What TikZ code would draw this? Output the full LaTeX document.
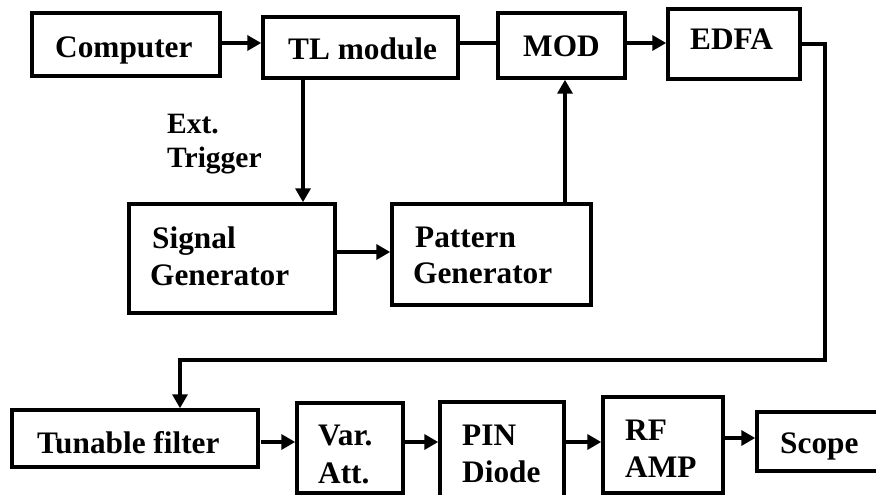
\documentclass[tikz,border=0pt]{standalone}
\usepackage{fontspec}
\setmainfont{Liberation Serif}
\usetikzlibrary{arrows.meta}
\begin{document}
\begin{tikzpicture}[x=1pt,y=-1pt,
  blk/.style={draw, line width=3.5pt, inner sep=0pt},
  lbl/.style={anchor=base west, inner sep=0pt, font=\fontsize{31.3}{37}\selectfont\bfseries},
  smalllbl/.style={lbl, font=\fontsize{29.5}{34}\selectfont\bfseries},
  wire/.style={line width=3.5pt},
  arr/.style={wire, -{Triangle[length=14pt,width=15pt]}}]
\useasboundingbox (0,0) rectangle (876,495);
% blocks: corner-to-corner boxes
\newcommand\blockat[5]{\node[blk, minimum width={#4-#2}, minimum height={#5-#3}] (#1) at ({(#2+#4)/2},{(#3+#5)/2}) {};}
\blockat{comp}{32}{13}{220}{76}
\blockat{tl}{263}{17}{458}{78}
\blockat{mod}{498}{13}{625}{78}
\blockat{edfa}{668}{9}{800}{79}
\blockat{sig}{129}{204}{335}{313}
\blockat{pat}{392}{204}{591}{305}
\blockat{tf}{12}{410}{258}{467}
\blockat{var}{297}{403}{403}{493}
\blockat{pin}{440}{402}{564}{510}
\blockat{rf}{603}{397}{723}{493}
\blockat{scope}{757}{412}{900}{471}
% labels
\node[lbl] (tcomp) at (55,58) {Computer};
\node[lbl] (ttl) at (288,60) {TL module};
\node[lbl] (tmod) at (523,57) {MOD};
\node[lbl] (tedfa) at (690,50) {EDFA};
\node[smalllbl] (text1) at (167,133) {Ext.};
\node[smalllbl] (text2) at (167,167) {Trigger};
\node[lbl] (tsig1) at (152,248) {Signal};
\node[lbl] (tsig2) at (150,285) {Generator};
\node[lbl] (tpat1) at (415,247) {Pattern};
\node[lbl] (tpat2) at (413,283) {Generator};
\node[lbl] (ttf) at (37,453) {Tunable filter};
\node[lbl] (tvar1) at (318,445) {Var.};
\node[lbl] (tvar2) at (318,483) {Att.};
\node[lbl] (tpin1) at (462,445) {PIN};
\node[lbl] (tpin2) at (462,482) {Diode};
\node[lbl] (trf1) at (625,440) {RF};
\node[lbl] (trf2) at (625,477) {AMP};
\node[lbl] (tscope) at (780,453) {Scope};
% bend points of the long return line
\coordinate (r1) at (825,44);
\coordinate (r2) at (825,360);
\coordinate (r3) at (180,360);
% connectors
\draw[arr] (comp.east |- 0,43) -- (tl.west |- 0,43);
\draw[wire] (tl.east |- 0,43) -- (mod.west |- 0,43);
\draw[arr] (mod.east |- 0,43) -- (edfa.west |- 0,43);
\draw[arr] (edfa.east |- r1) -- (r1) -- (r2) -- (r3) -- (tf.north -| r3);
\draw[arr] (tl.south -| 303,0) -- (sig.north -| 303,0);
\draw[arr] (sig.east |- 0,252) -- (pat.west |- 0,252);
\draw[arr] (pat.north -| 565,0) -- (mod.south -| 565,0);
\draw[arr] (tf.east |- 0,442) ++(1.5,0) -- (var.west |- 0,442);
\draw[arr] (var.east |- 0,442) -- (pin.west |- 0,442);
\draw[arr] (pin.east |- 0,442) -- (rf.west |- 0,442);
\draw[arr] (rf.east |- 0,438) -- (scope.west |- 0,438);
\end{tikzpicture}
\end{document}
